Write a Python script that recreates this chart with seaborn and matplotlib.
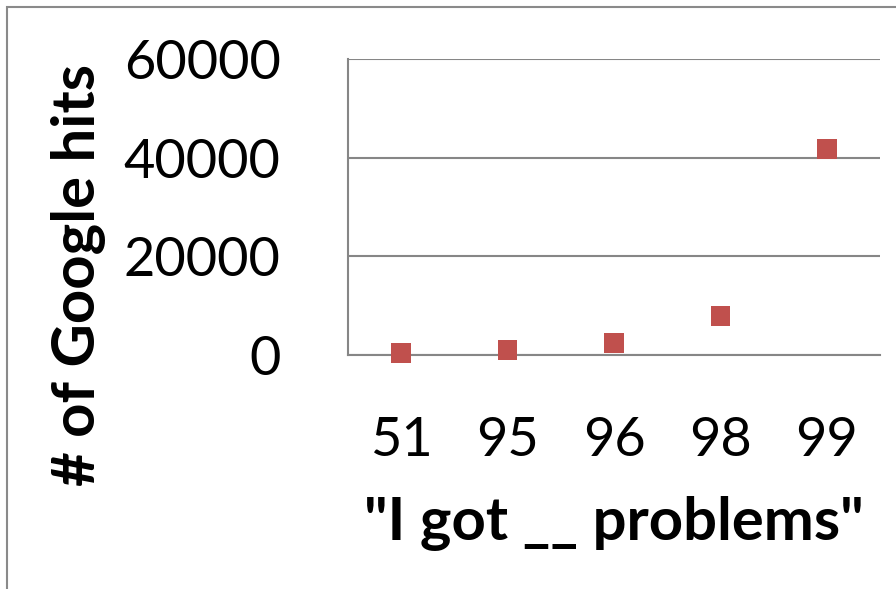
import matplotlib
matplotlib.use("Agg")
import matplotlib.pyplot as plt
import seaborn as sns
import pandas as pd
from matplotlib.patches import Rectangle
from matplotlib.ticker import FixedLocator

# data
problems = ["51", "95", "96", "98", "99"]
hits = [400, 1000, 2400, 7900, 41800]
y_ticks = [0, 20000, 40000, 60000]

df = pd.DataFrame({"problems": problems, "hits": hits})

sns.set_style("white")
plt.rcParams["font.family"] = ["Lato", "DejaVu Sans"]
plt.rcParams["text.color"] = "black"
plt.rcParams["axes.labelcolor"] = "black"
plt.rcParams["xtick.labelcolor"] = "black"
plt.rcParams["ytick.labelcolor"] = "black"

grey = "#868686"
fig = plt.figure(figsize=(8.96, 5.89), dpi=100)
ax = fig.add_axes([348 / 896, 1 - 355 / 589, (880 - 348) / 896, (355 - 59) / 589])

sns.scatterplot(data=df, x="problems", y="hits", marker="s", s=200,
                color="#C0504D", edgecolor="none", ax=ax, zorder=3, clip_on=False)

ax.set_xlim(-0.5, len(problems) - 0.5)
ax.set_ylim(0, 60000)
ax.set_yticks(y_ticks)
ax.set_yticklabels([str(v) for v in y_ticks])
ax.yaxis.grid(True, color=grey, linewidth=1.5)
ax.set_axisbelow(True)

# tick marks sit on category boundaries, labels in the middle
ax.xaxis.set_minor_locator(FixedLocator([i - 0.5 for i in range(len(problems) + 1)]))
ax.tick_params(axis="x", which="minor", direction="out", length=14.5, width=1.5, color=grey)
ax.tick_params(axis="x", which="major", length=0, pad=44, labelsize=39, labelcolor="black")
ax.tick_params(axis="y", direction="out", length=14.5, width=1.5, color=grey, pad=34,
               labelsize=39, labelcolor="black")

for side in ["top", "right"]:
    ax.spines[side].set_visible(False)
for side in ["left", "bottom"]:
    ax.spines[side].set_color(grey)
    ax.spines[side].set_linewidth(1.5)

ax.set_xlabel('"I got __ problems"', fontsize=43, fontweight="bold", labelpad=22, color="black")
ax.set_ylabel("# of Google hits", fontsize=43, fontweight="bold", color="black")
ax.yaxis.set_label_coords(-0.455, 0.27)

# chart border like the original spreadsheet chart
fig.patches.append(Rectangle((7 / 896, -0.1), 1.2, 1 - 7 / 589 + 0.1, transform=fig.transFigure,
                             fill=False, edgecolor="#8a8a8a", linewidth=1.5))

fig.savefig("out.png", dpi=100)
